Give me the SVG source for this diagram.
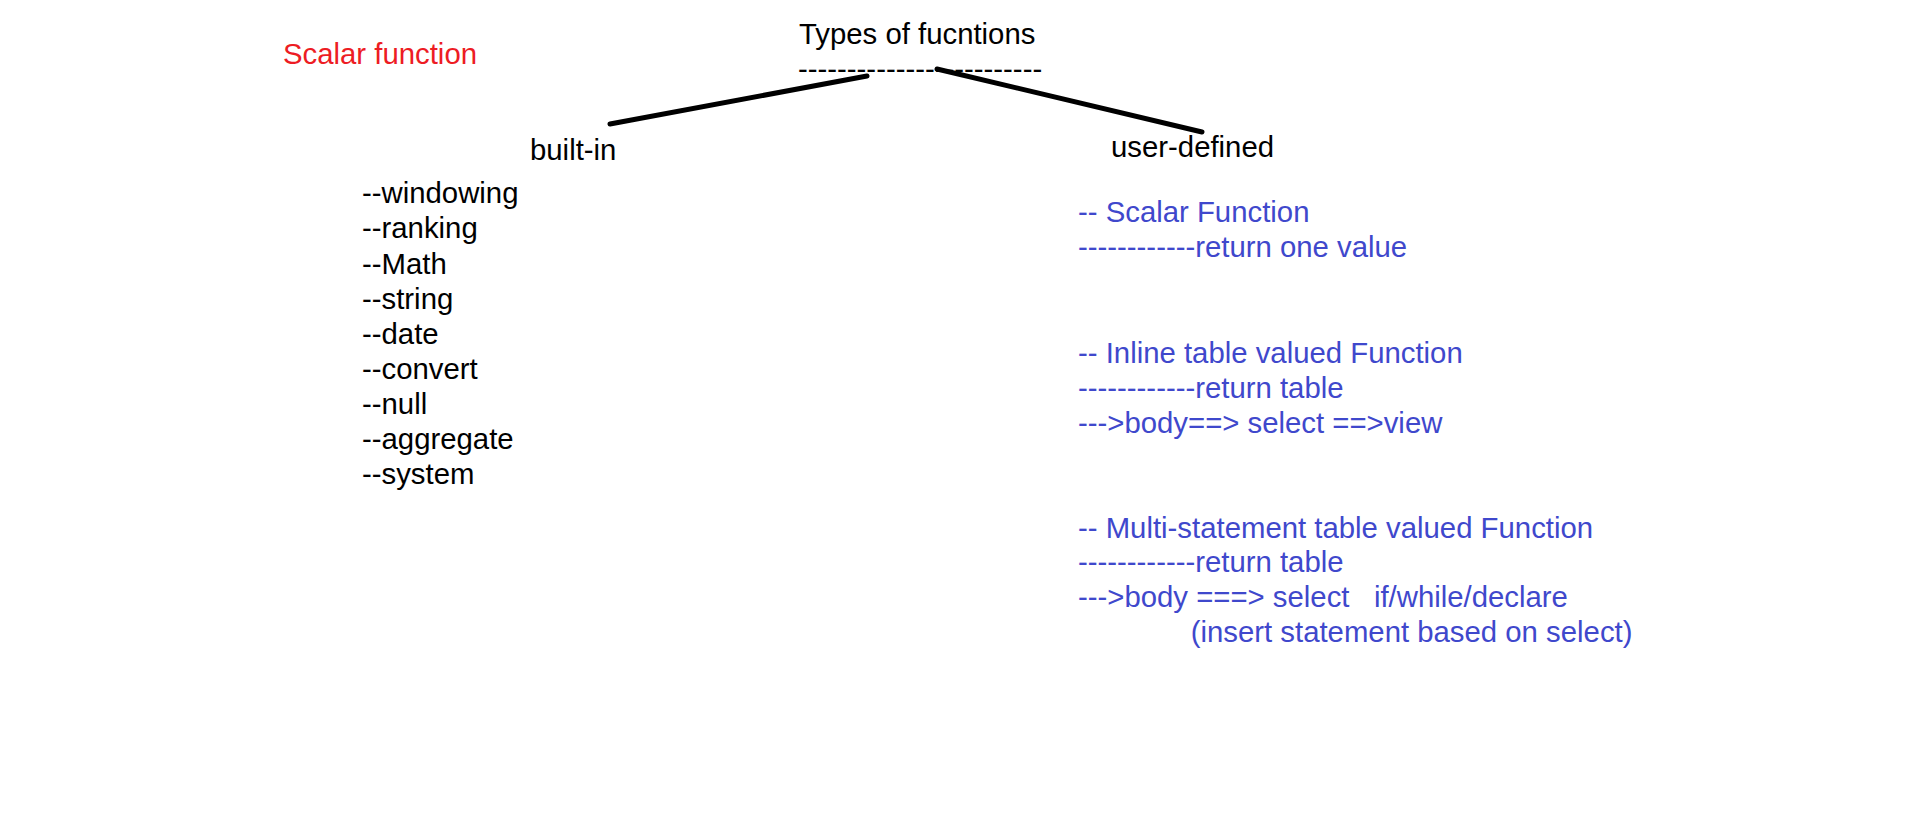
<svg xmlns="http://www.w3.org/2000/svg" width="1914" height="813" viewBox="0 0 1914 813">
<style>
text{font-family:"Liberation Sans",Arial,sans-serif;font-size:29.33px;white-space:pre}
.k{fill:#000}
.r{fill:#ed1c24}
.b{fill:#3f48cc}
.ln{stroke:#000;stroke-width:5;stroke-linecap:round;fill:none}
</style>
<rect width="1914" height="813" fill="#fff"/>
<g id="note">
<text class="r" x="283" y="64">Scalar function</text>
</g>
<g id="root">
<text class="k" x="799" y="43.5">Types of fucntions</text>
<text class="k" x="798" y="78.7">-------------------------</text>
</g>
<g id="connectors">
<line class="ln" x1="610" y1="124" x2="867" y2="76"/>
<line class="ln" x1="937" y1="69" x2="1202" y2="132"/>
</g>
<g id="builtin">
<text class="k" x="530" y="160">built-in</text>
<text class="k" x="362" y="203.3">--windowing</text>
<text class="k" x="362" y="238.4">--ranking</text>
<text class="k" x="362" y="273.5">--Math</text>
<text class="k" x="362" y="308.6">--string</text>
<text class="k" x="362" y="343.7">--date</text>
<text class="k" x="362" y="378.8">--convert</text>
<text class="k" x="362" y="413.9">--null</text>
<text class="k" x="362" y="449">--aggregate</text>
<text class="k" x="362" y="484.1">--system</text>
</g>
<g id="userdefined">
<text class="k" x="1111" y="156.7">user-defined</text>
</g>
<g id="scalar">
<text class="b" x="1078" y="221.7">-- Scalar Function</text>
<text class="b" x="1078" y="256.7">------------return one value</text>
</g>
<g id="inline">
<text class="b" x="1078" y="363.3">-- Inline table valued Function</text>
<text class="b" x="1078" y="398.3">------------return table</text>
<text class="b" x="1078" y="433.3">---&gt;body==&gt; select ==&gt;view</text>
</g>
<g id="multi">
<text class="b" x="1078" y="538.3">-- Multi-statement table valued Function</text>
<text class="b" x="1078" y="571.7">------------return table</text>
<text class="b" x="1078" y="606.7">---&gt;body ===&gt; select   if/while/declare</text>
<text class="b" x="1190.7" y="641.7">(insert statement based on select)</text>
</g>
</svg>
